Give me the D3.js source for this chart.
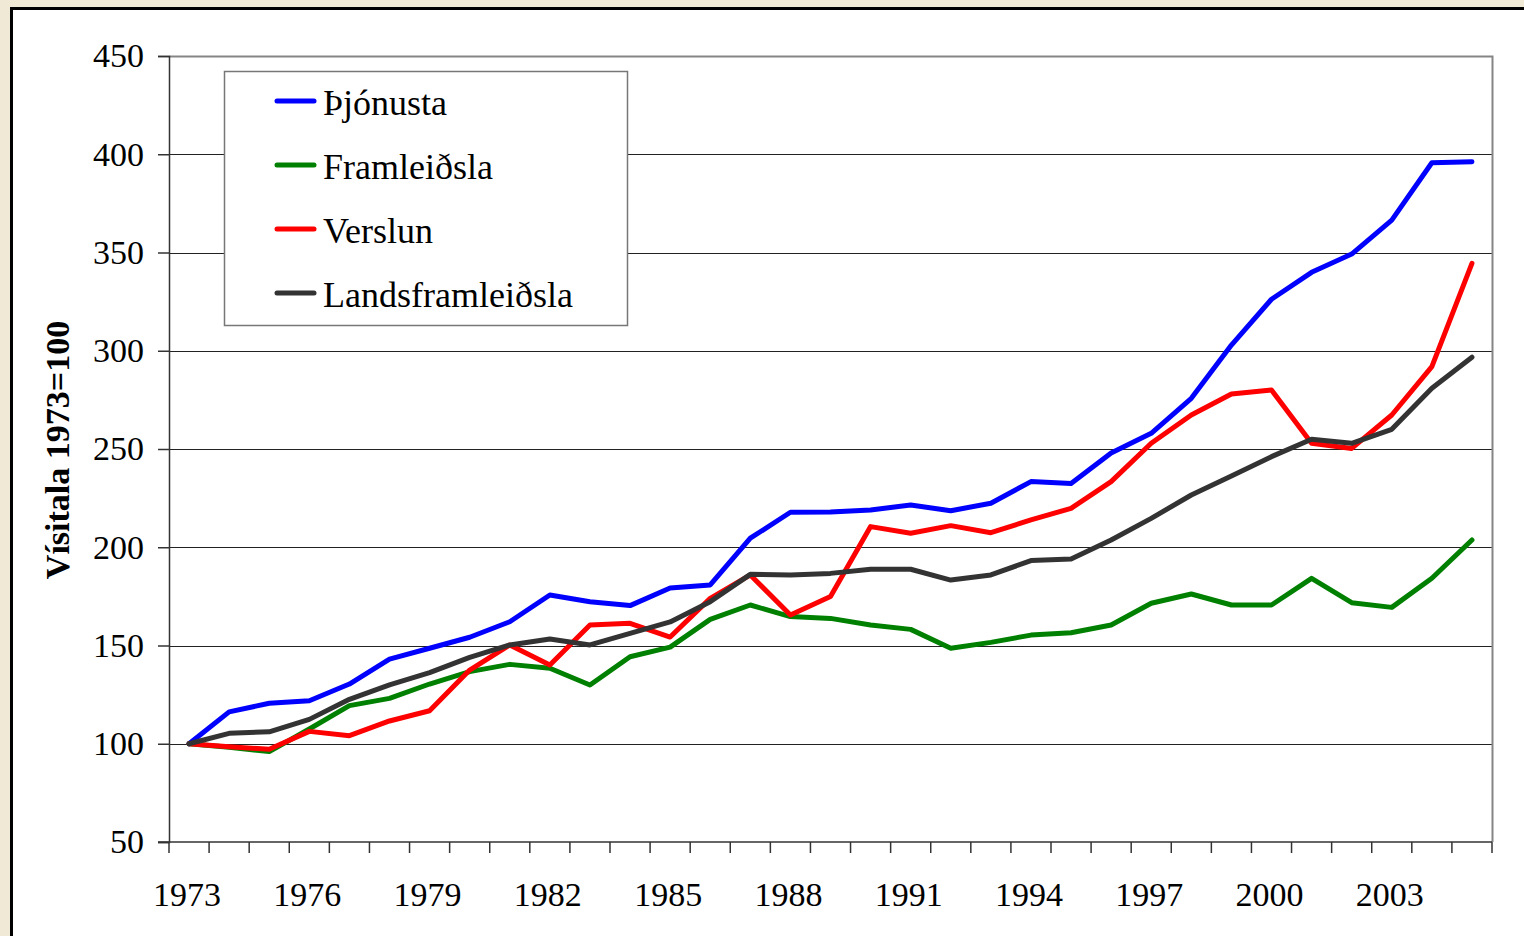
<!DOCTYPE html>
<html>
<head>
<meta charset="utf-8">
<script src="https://cdn.jsdelivr.net/npm/d3@7"></script>
<style>
  html, body { margin: 0; padding: 0; background: #efe9d5; }
  svg { display: block; }
</style>
</head>
<body>
<div id="chart"></div>
<script>
// years on the x axis
var years = d3.range(1973, 2006);
var yearLabels = [1973, 1976, 1979, 1982, 1985, 1988, 1991, 1994, 1997, 2000, 2003];
var yTicks = [50, 100, 150, 200, 250, 300, 350, 400, 450];

// index values, 1973 = 100
var thjonusta = [100, 116.2, 120.6, 121.9, 130.4, 143.1, 148.6, 154.2, 162.1, 175.7, 172.3, 170.3,
    179.3, 180.8, 204.6, 217.8, 218, 219, 221.5, 218.6, 222.4, 233.4, 232.5, 248, 258, 275.8,
    302.9, 326.2, 339.9, 349.2, 366.5, 395.7, 396.2];
var framleidsla = [100, 98.2, 96, 107.5, 119.4, 123.1, 130.4, 136.7, 140.4, 138.4, 129.9, 144.3,
    149.2, 163.3, 170.6, 164.7, 163.8, 160.4, 158.2, 148.6, 151.6, 155.3, 156.5, 160.4, 171.5, 176.2,
    170.6, 170.6, 184.2, 171.8, 169.4, 184.2, 203.7];
var verslun = [100, 98.5, 97.2, 106.3, 104.1, 111.6, 116.8, 137.5, 150.3, 140.1, 160.4, 161.3,
    154.3, 174, 185.9, 165.5, 174.9, 210.5, 207.1, 211, 207.4, 213.9, 219.8, 233.4, 252.9, 267.3,
    278, 280, 252.9, 250.3, 267.3, 291.9, 344.5];
var landsframleidsla = [100, 105.3, 106.1, 112.4, 122.6, 130, 136.2, 144, 150.3, 153.3, 150.3, 156.2,
    162, 172.3, 186.2, 185.9, 186.7, 188.8, 188.8, 183.3, 185.9, 193.2, 194, 203.7, 214.7, 226.6,
    236.3, 246.1, 255, 252.9, 260, 280.9, 296.7];

var seriesNames = ["Þjónusta", "Framleiðsla", "Verslun", "Landsframleiðsla"];
var seriesColors = ["#0000ff", "#008000", "#ff0000", "#333333"];
var seriesData = [thjonusta, framleidsla, verslun, landsframleidsla];

function drawChart() {
    var W = 1524, H = 936;
    var font = "'Liberation Serif', 'Times New Roman', serif";

    var svg = d3.select("#chart").append("svg")
        .attr("width", W)
        .attr("height", H);

    // white panel with black frame
    svg.append("rect")
        .attr("x", 11.5).attr("y", 8.5)
        .attr("width", W + 20).attr("height", H + 20)
        .attr("fill", "#ffffff")
        .attr("stroke", "#000000")
        .attr("stroke-width", 3);

    var left = 169, right = 1492, top = 56, bottom = 842;

    var x = d3.scaleBand()
        .domain(years)
        .range([left, right]);

    var y = d3.scaleLinear()
        .domain([50, 450])
        .range([bottom, top]);

    // grid lines
    svg.append("g")
        .selectAll("line")
        .data(yTicks.filter(function (d) { return d > 50 && d < 450; }))
        .enter().append("line")
        .attr("x1", left).attr("x2", right)
        .attr("y1", function (d) { return Math.round(y(d)) + 0.5; })
        .attr("y2", function (d) { return Math.round(y(d)) + 0.5; })
        .attr("stroke", "#222")
        .attr("stroke-width", 1);

    // top and right border of the plot area
    svg.append("path")
        .attr("d", "M" + left + "," + (top + 0.5) + "H" + (right + 0.5) + "V" + bottom)
        .attr("fill", "none")
        .attr("stroke", "#858585")
        .attr("stroke-width", 2);

    // y axis
    var yAxis = svg.append("g")
        .attr("transform", "translate(" + left + ",0)")
        .call(d3.axisLeft(y).tickValues(yTicks).tickSize(11).tickPadding(14));
    yAxis.selectAll("line, path").attr("stroke", "#333").attr("stroke-width", 1.5);
    yAxis.selectAll("text")
        .style("font-family", font)
        .style("font-size", "34px")
        .attr("fill", "#000");

    // x axis: ticks on the band edges, labels every third year
    var xAxis = svg.append("g");
    xAxis.append("line")
        .attr("x1", left - 11).attr("x2", right)
        .attr("y1", bottom).attr("y2", bottom)
        .attr("stroke", "#333").attr("stroke-width", 1.5);
    xAxis.selectAll(".xtick")
        .data(years.concat(["end"]))
        .enter().append("line")
        .attr("class", "xtick")
        .attr("x1", function (d) { return d === "end" ? right : x(d); })
        .attr("x2", function (d) { return d === "end" ? right : x(d); })
        .attr("y1", bottom).attr("y2", bottom + 11)
        .attr("stroke", "#333").attr("stroke-width", 1.5);
    xAxis.selectAll(".xlabel")
        .data(yearLabels)
        .enter().append("text")
        .attr("class", "xlabel")
        .attr("x", function (d) { return x(d) + x.bandwidth() / 2 - 2; })
        .attr("y", 906)
        .attr("text-anchor", "middle")
        .style("font-family", font)
        .style("font-size", "34px")
        .text(function (d) { return d; });

    // y axis title
    svg.append("text")
        .attr("transform", "translate(69,450) rotate(-90)")
        .attr("text-anchor", "middle")
        .style("font-family", font)
        .style("font-size", "34px")
        .style("font-weight", "bold")
        .text("Vísitala 1973=100");

    // lines
    var line = d3.line()
        .x(function (d, i) { return x(years[i]) + x.bandwidth() / 2; })
        .y(function (d) { return y(d); });

    seriesData.forEach(function (values, k) {
        svg.append("path")
            .datum(values)
            .attr("fill", "none")
            .attr("stroke", seriesColors[k])
            .attr("stroke-width", 5)
            .attr("stroke-linejoin", "round")
            .attr("stroke-linecap", "round")
            .attr("d", line);
    });

    // legend
    var legend = svg.append("g");
    legend.append("rect")
        .attr("x", 224.5).attr("y", 71.5)
        .attr("width", 403).attr("height", 254)
        .attr("fill", "#ffffff")
        .attr("stroke", "#777")
        .attr("stroke-width", 1.5);
    seriesNames.forEach(function (name, k) {
        var ly = 101 + k * 64;
        legend.append("line")
            .attr("x1", 277).attr("x2", 314)
            .attr("y1", ly).attr("y2", ly)
            .attr("stroke", seriesColors[k])
            .attr("stroke-width", 5)
            .attr("stroke-linecap", "round");
        legend.append("text")
            .attr("x", 323).attr("y", ly + 14)
            .style("font-family", font)
            .style("font-size", "36px")
            .text(name);
    });
}

drawChart();
</script>
</body>
</html>
